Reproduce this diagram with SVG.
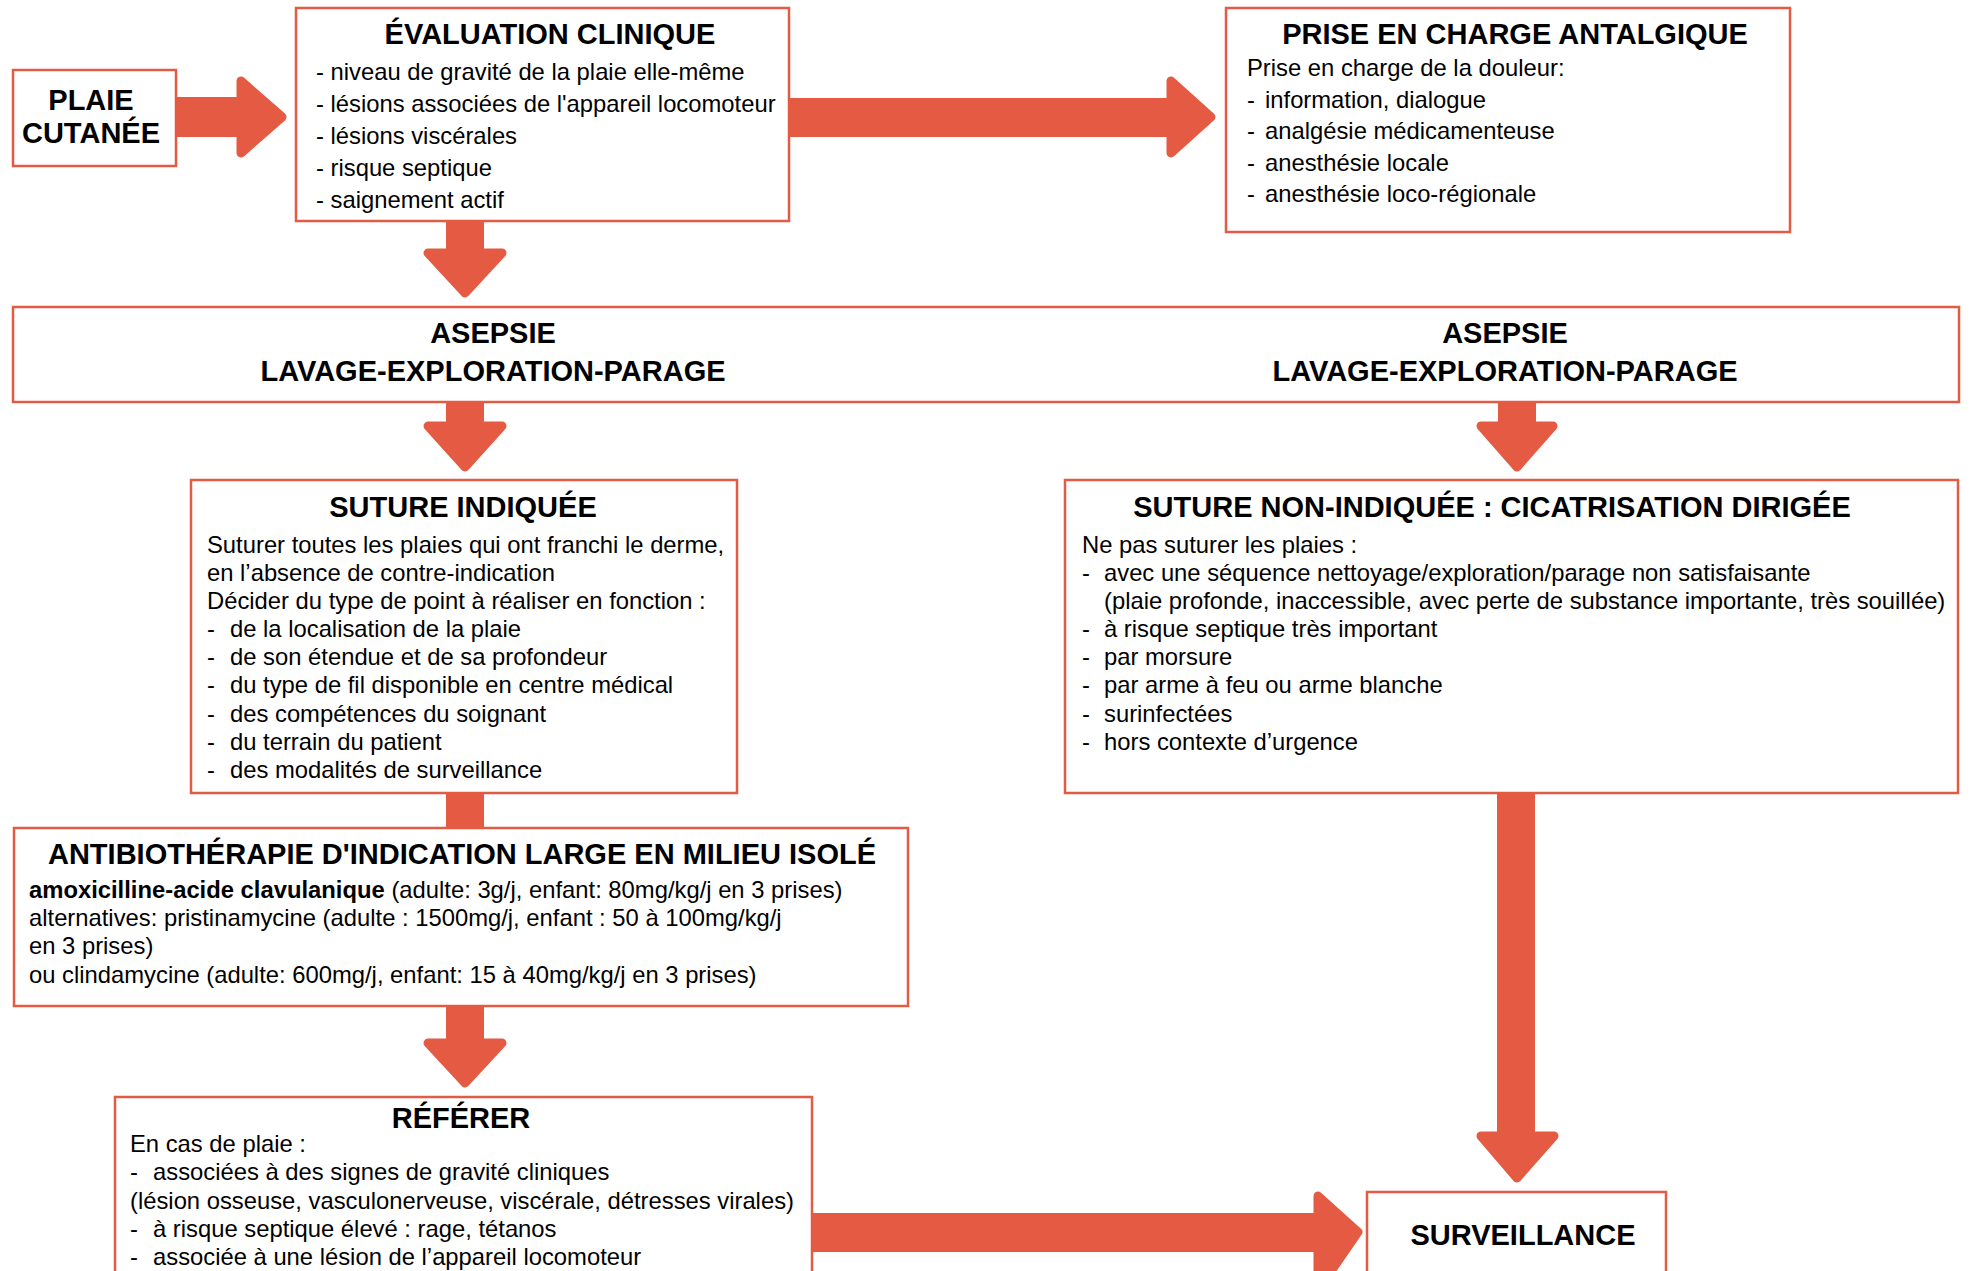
<svg xmlns="http://www.w3.org/2000/svg" width="1970" height="1271" viewBox="0 0 1970 1271">
<style>
.box{fill:#fff;stroke:#E45B43;stroke-width:2.5}
.t{font-family:"Liberation Sans",Arial,sans-serif;font-size:29px;font-weight:bold;fill:#000;text-anchor:middle}
.b{font-family:"Liberation Sans",Arial,sans-serif;font-size:23.8px;fill:#000}
.bb{font-weight:bold}
.sh{fill:#E45A42}
.hd{fill:#E45A42;stroke:#E45A42;stroke-width:9;stroke-linejoin:round}
</style>
<rect width="1970" height="1271" fill="#fff"/>
<g id="connectors">
  <g id="c-plaie-eval"><rect class="sh" x="174" y="97" width="68" height="40"/><polygon class="hd" points="241,81 282,117 241,153"/></g>
  <g id="c-eval-prise"><rect class="sh" x="788" y="98" width="384" height="39"/><polygon class="hd" points="1171,81 1211,117 1171,153"/></g>
  <g id="c-eval-asepsie"><rect class="sh" x="446" y="220" width="38" height="34"/><polygon class="hd" points="428,253 502,253 465,293"/></g>
  <g id="c-asepsie-suture"><rect class="sh" x="446" y="402" width="38" height="25"/><polygon class="hd" points="428,426 502,426 465,467"/></g>
  <g id="c-asepsie-nonsuture"><rect class="sh" x="1498" y="402" width="38" height="25"/><polygon class="hd" points="1481,426 1553,426 1517,467"/></g>
  <g id="c-suture-antibio"><rect class="sh" x="446" y="792" width="38" height="37"/></g>
  <g id="c-antibio-referer"><rect class="sh" x="446" y="1006" width="38" height="38"/><polygon class="hd" points="428,1043 502,1043 465,1083"/></g>
  <g id="c-nonsuture-surv"><rect class="sh" x="1497" y="792" width="38" height="345"/><polygon class="hd" points="1481,1136 1554,1136 1517,1178"/></g>
  <g id="c-referer-surv"><rect class="sh" x="811" y="1213" width="508" height="39"/><polygon class="hd" points="1318,1196 1358,1232 1318,1290"/></g>
</g>
<g id="plaie">
  <rect class="box" x="13" y="70" width="163" height="96"/>
  <text class="t" x="91" y="110">PLAIE</text>
  <text class="t" x="91" y="143">CUTANÉE</text>
</g>
<g id="evaluation">
  <rect class="box" x="296" y="8" width="493" height="213"/>
  <text class="t" x="550" y="44">ÉVALUATION CLINIQUE</text>
  <text class="b" x="316" y="80">- niveau de gravité de la plaie elle-même</text>
  <text class="b" x="316" y="112">- lésions associées de l'appareil locomoteur</text>
  <text class="b" x="316" y="144">- lésions viscérales</text>
  <text class="b" x="316" y="175.5">- risque septique</text>
  <text class="b" x="316" y="207.5">- saignement actif</text>
</g>
<g id="prise">
  <rect class="box" x="1226" y="8" width="564" height="224"/>
  <text class="t" x="1515" y="44">PRISE EN CHARGE ANTALGIQUE</text>
  <text class="b" x="1247" y="76">Prise en charge de la douleur:</text>
  <text class="b" x="1247" y="107.5">- <tspan x="1265">information, dialogue</tspan></text>
  <text class="b" x="1247" y="139">- <tspan x="1265">analgésie médicamenteuse</tspan></text>
  <text class="b" x="1247" y="170.5">- <tspan x="1265">anesthésie locale</tspan></text>
  <text class="b" x="1247" y="202">- <tspan x="1265">anesthésie loco-régionale</tspan></text>
</g>
<g id="asepsie">
  <rect class="box" x="13" y="307" width="1946" height="95"/>
  <text class="t" x="493" y="343">ASEPSIE</text>
  <text class="t" x="493" y="381">LAVAGE-EXPLORATION-PARAGE</text>
  <text class="t" x="1505" y="343">ASEPSIE</text>
  <text class="t" x="1505" y="381">LAVAGE-EXPLORATION-PARAGE</text>
</g>
<g id="suture-indiquee">
  <rect class="box" x="191" y="480" width="546" height="313"/>
  <text class="t" x="463" y="517">SUTURE INDIQUÉE</text>
  <text class="b" x="207" y="553">Suturer toutes les plaies qui ont franchi le derme,</text>
  <text class="b" x="207" y="581">en l’absence de contre-indication</text>
  <text class="b" x="207" y="609">Décider du type de point à réaliser en fonction :</text>
  <text class="b" x="207" y="637">-<tspan x="230">de la localisation de la plaie</tspan></text>
  <text class="b" x="207" y="665">-<tspan x="230">de son étendue et de sa profondeur</tspan></text>
  <text class="b" x="207" y="693">-<tspan x="230">du type de fil disponible en centre médical</tspan></text>
  <text class="b" x="207" y="722">-<tspan x="230">des compétences du soignant</tspan></text>
  <text class="b" x="207" y="750">-<tspan x="230">du terrain du patient</tspan></text>
  <text class="b" x="207" y="778">-<tspan x="230">des modalités de surveillance</tspan></text>
</g>
<g id="suture-non-indiquee">
  <rect class="box" x="1065" y="480" width="893" height="313"/>
  <text class="t" x="1492" y="517">SUTURE NON-INDIQUÉE : CICATRISATION DIRIGÉE</text>
  <text class="b" x="1082" y="553">Ne pas suturer les plaies :</text>
  <text class="b" x="1082" y="581">-<tspan x="1104">avec une séquence nettoyage/exploration/parage non satisfaisante</tspan></text>
  <text class="b" x="1104" y="609">(plaie profonde, inaccessible, avec perte de substance importante, très souillée)</text>
  <text class="b" x="1082" y="637">-<tspan x="1104">à risque septique très important</tspan></text>
  <text class="b" x="1082" y="665">-<tspan x="1104">par morsure</tspan></text>
  <text class="b" x="1082" y="693">-<tspan x="1104">par arme à feu ou arme blanche</tspan></text>
  <text class="b" x="1082" y="722">-<tspan x="1104">surinfectées</tspan></text>
  <text class="b" x="1082" y="750">-<tspan x="1104">hors contexte d’urgence</tspan></text>
</g>
<g id="antibiotherapie">
  <rect class="box" x="14" y="828" width="894" height="178"/>
  <text class="t" x="462" y="864">ANTIBIOTHÉRAPIE D'INDICATION LARGE EN MILIEU ISOLÉ</text>
  <text class="b" x="29" y="898"><tspan class="bb">amoxicilline-acide clavulanique</tspan> (adulte: 3g/j, enfant: 80mg/kg/j en 3 prises)</text>
  <text class="b" x="29" y="926">alternatives: pristinamycine (adulte : 1500mg/j, enfant : 50 à 100mg/kg/j</text>
  <text class="b" x="29" y="954">en 3 prises)</text>
  <text class="b" x="29" y="983">ou clindamycine (adulte: 600mg/j, enfant: 15 à 40mg/kg/j en 3 prises)</text>
</g>
<g id="referer">
  <rect class="box" x="115" y="1097" width="697" height="190"/>
  <text class="t" x="461" y="1128">RÉFÉRER</text>
  <text class="b" x="130" y="1152">En cas de plaie :</text>
  <text class="b" x="130" y="1180">-<tspan x="153">associées à des signes de gravité cliniques</tspan></text>
  <text class="b" x="130" y="1209">(lésion osseuse, vasculonerveuse, viscérale, détresses virales)</text>
  <text class="b" x="130" y="1237">-<tspan x="153">à risque septique élevé : rage, tétanos</tspan></text>
  <text class="b" x="130" y="1265">-<tspan x="153">associée à une lésion de l’appareil locomoteur</tspan></text>
</g>
<g id="surveillance">
  <rect class="box" x="1367" y="1192" width="299" height="100"/>
  <text class="t" x="1523" y="1245">SURVEILLANCE</text>
</g>
</svg>
